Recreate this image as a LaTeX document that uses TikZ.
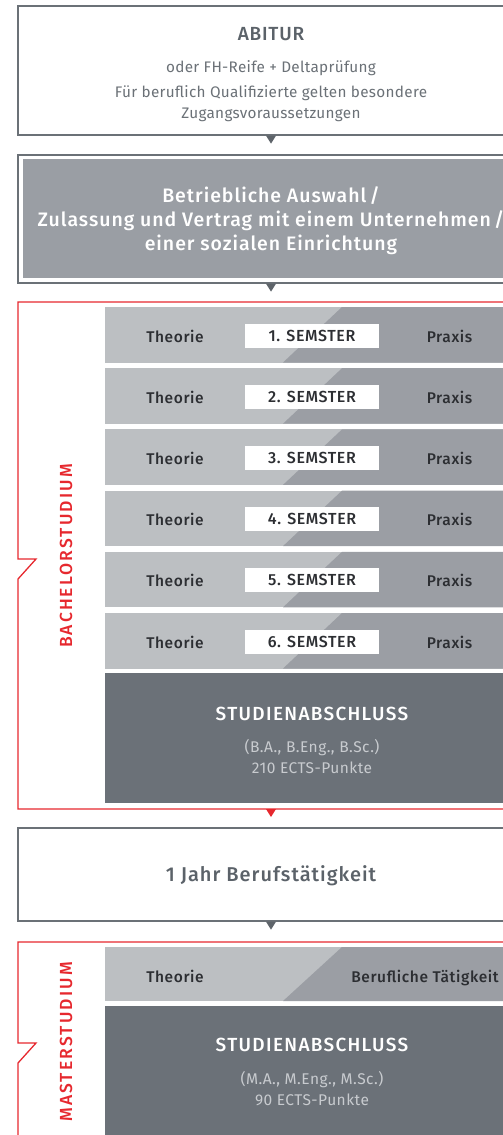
\documentclass[tikz,border=0pt]{standalone}
\usepackage{fontspec}
\setmainfont{Fira Sans}
\newfontfamily\med[LetterSpace=4]{Fira Sans Medium}
\newfontfamily\medb[LetterSpace=5]{Fira Sans Medium}
\newfontfamily\medw[LetterSpace=7]{Fira Sans Medium}
\newfontfamily\medv[LetterSpace=12]{Fira Sans Medium}
\newfontfamily\reg[LetterSpace=2]{Fira Sans}
\newfontfamily\regs[LetterSpace=3]{Fira Sans}
\definecolor{gborder}{HTML}{6B7177}
\definecolor{trigray}{HTML}{5E646A}
\definecolor{fillB}{HTML}{9A9EA4}
\definecolor{lightrow}{HTML}{BCBFC2}
\definecolor{darkrow}{HTML}{9B9EA4}
\definecolor{absch}{HTML}{6B7178}
\definecolor{redc}{HTML}{E6282E}
\definecolor{txtgray}{HTML}{5B6269}
\definecolor{subgray}{HTML}{6B7177}
\definecolor{dtext}{HTML}{2C2E32}
\definecolor{abssub}{HTML}{C8CBCF}
\begin{document}
\begin{tikzpicture}[x=1pt,y=-1pt,
  gbox/.style={draw=gborder,line width=1.3pt,fill=white,inner sep=0pt},
  redline/.style={draw=redc,line width=1.3pt},
  tri/.style={fill=trigray},
  redtri/.style={fill=redc},
  lbl/.style={inner sep=0pt,anchor=base},
  titleA/.style={lbl,text=txtgray,font=\med\fontsize{19}{21}\selectfont},
  titleJ/.style={lbl,text=txtgray,font=\medb\fontsize{20}{22}\selectfont},
  subA/.style={lbl,text=subgray,font=\reg\fontsize{15.3}{18}\selectfont},
  whitetitle/.style={lbl,text=white,font=\medb\fontsize{19.5}{21}\selectfont},
  abstitle/.style={lbl,text=white,font=\medw\fontsize{19}{21}\selectfont},
  rowtxt/.style={lbl,text=dtext,font=\med\fontsize{15.5}{18}\selectfont},
  semlabel/.style={fill=white,minimum width=134pt,minimum height=24pt,inner sep=0pt,text=dtext,font=\med\fontsize{16}{18}\selectfont},
  abssubtxt/.style={lbl,text=abssub,font=\regs\fontsize{15.5}{18}\selectfont},
  vert/.style={rotate=90,inner sep=0pt,text=redc,font=\medv\fontsize{17.5}{20}\selectfont}
]
\useasboundingbox (0,0) rectangle (503,1135);
\clip (0,0) rectangle (503,1135);

% ---- ABITUR box
\node[gbox,minimum width=506pt,minimum height=129pt] (abitur) at (271,70.5) {};
\node[titleA] (abT) at (271,40) {ABITUR};
\node[subA] (ab1) at (271,72) {oder FH-Reife + Deltaprüfung};
\node[subA] (ab2) at (271,97) {Für beruflich Qualifizierte gelten besondere};
\node[subA] (ab3) at (271,118.5) {Zugangsvoraussetzungen};
\fill[tri] (abitur.south) ++(-5,0) -- ++(10,0) -- ++(-5,8) -- cycle;

% ---- Auswahl box
\node[gbox,minimum width=506pt,minimum height=128pt] (auswahl) at (271,219) {};
\fill[fillB] (23,159) rectangle (530,278);
\node[whitetitle] (aw1) at (271,202) {Betriebliche Auswahl\,/};
\node[whitetitle] (aw2) at (271,226) {Zulassung und Vertrag mit einem Unternehmen\,/};
\node[whitetitle] (aw3) at (271,250) {einer sozialen Einrichtung};
\fill[tri] (auswahl.south) ++(-5,0) -- ++(10,0) -- ++(-5,8) -- cycle;

% ---- Bachelor frame
\coordinate (bachS) at (271,809);
\draw[redline] (540,302) -- (18,302) -- (18,559) -- (36,559) -- (18,579) -- (18,809) -- (540,809);
\node[vert] (bach) at (66,556) {BACHELORSTUDIUM};

\foreach \i in {1,...,6}{
  \pgfmathsetmacro\t{307+(\i-1)*61.2}
  \fill[lightrow] (105,\t) rectangle (530,\t+55.5);
  \fill[darkrow] (342,\t) -- (530,\t) -- (530,\t+55.5) -- (283,\t+55.5) -- cycle;
  \node[semlabel] (sem\i) at (312,\t+28.5) {\i. SEMSTER};
  \node[rowtxt] (th\i) at (175,\t+35) {Theorie};
  \node[rowtxt] (pr\i) at (449.5,\t+35) {Praxis};
}

\fill[absch] (105,673) rectangle (530,803);
\node[abstitle] (bA) at (312,720) {STUDIENABSCHLUSS};
\node[abssubtxt] (bA1) at (312,752.5) {(B.A., B.Eng., B.Sc.)};
\node[abssubtxt] (bA2) at (312,773) {210 ECTS-Punkte};
\fill[redtri] (bachS) ++(-5,0) -- ++(10,0) -- ++(-5,8) -- cycle;

% ---- 1 Jahr box
\node[gbox,minimum width=506pt,minimum height=93pt] (jahr) at (271,874.5) {};
\node[titleJ] (jT) at (271,881.5) {1 Jahr Berufstätigkeit};
\fill[tri] (jahr.south) ++(-5,0) -- ++(10,0) -- ++(-5,8) -- cycle;

% ---- Master frame
\draw[redline] (540,942) -- (18,942) -- (18,1043) -- (36,1043) -- (18,1063) -- (18,1140);
\node[vert] (mast) at (66,1042) {MASTERSTUDIUM};
\fill[lightrow] (105,947) rectangle (530,1001);
\fill[darkrow] (342,947) -- (530,947) -- (530,1001) -- (283,1001) -- cycle;
\node[rowtxt] (mth) at (175,982) {Theorie};
\node[rowtxt] (mbt) at (425,982) {Berufliche Tätigkeit};
\fill[absch] (105,1006) rectangle (530,1140);
\node[abstitle] (mA) at (312,1051) {STUDIENABSCHLUSS};
\node[abssubtxt] (mA1) at (312,1084) {(M.A., M.Eng., M.Sc.)};
\node[abssubtxt] (mA2) at (312,1105) {90 ECTS-Punkte};
\end{tikzpicture}
\end{document}
